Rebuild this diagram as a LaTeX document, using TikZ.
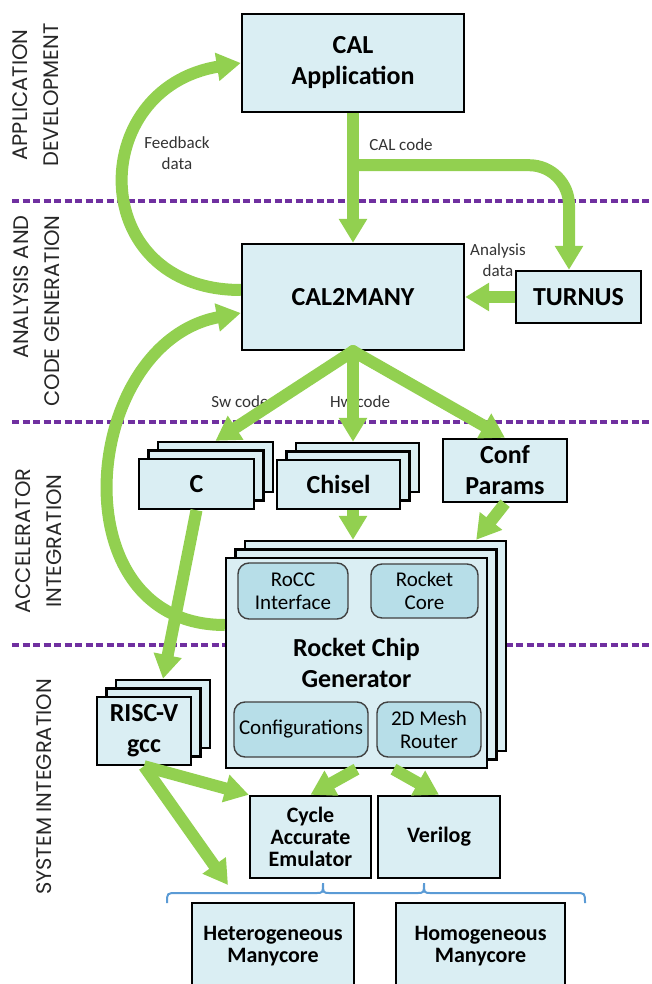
\documentclass[tikz,border=0pt]{standalone}
\usepackage{fontspec}
\setmainfont{Carlito}
\newfontfamily\bandfont{Poppins}
\usetikzlibrary{arrows.meta}
\definecolor{leaf}{HTML}{92D050}
\definecolor{paleblue}{HTML}{DAEEF3}
\definecolor{midblue}{HTML}{B7DEE8}
\definecolor{bracecol}{HTML}{5B9BD5}
\definecolor{lanecol}{HTML}{7030A0}
\begin{document}
\begin{tikzpicture}[x=1pt,y=-1pt,
  box/.style={draw=black,line width=2.4pt,fill=paleblue,inner sep=0pt,align=center,
   font=\fontsize{26}{31}\selectfont\bfseries},
  sbox/.style={box,font=\fontsize{22}{22}\selectfont\bfseries},
  subbox/.style={draw=black!75,line width=1.4pt,fill=midblue,rounded corners=11pt,
   inner sep=0pt,align=center,font=\fontsize{21}{23}\selectfont},
  lbl/.style={align=center,text=black!80,font=\fontsize{17}{21}\selectfont},
  band/.style={rotate=90,align=center,text=black!85,font=\bandfont\fontsize{21}{31}\selectfont},
  flow/.style={draw=leaf,line width=12pt,-{Triangle[width=27pt,length=24pt]}},
  lane/.style={draw=lanecol,line width=3.5pt,dash pattern=on 7pt off 3.5pt}]
 \useasboundingbox (0,0) rectangle (651,984);
 % phase separators and phase names
 \foreach \y in {201,422,645}
  \draw [lane] (12,\y) -- (651,\y);
 \node [band] (bapp) at (36,95) {APPLICATION\\DEVELOPMENT};
 \node [band,align=right] (bcode) at (37,311) {ANALYSIS AND\\CODE GENERATION};
 \node [band] (bacc) at (39,541) {ACCELERATOR\\INTEGRATION};
 \node [band] (bsys) at (44,787) {SYSTEM INTEGRATION};
 % arrow labels
 \node [lbl] (fbl) at (177,153) {Feedback\\data};
 \node [lbl] (cll) at (401,145) {CAL code};
 \node [lbl] (anl) at (498,260) {Analysis\\data};
 \node [lbl] (swl) at (240,402) {Sw code};
 \node [lbl] (hwl) at (360,402) {Hw code};
 % tool chain
 \node [box,minimum width=222,minimum height=98] (cal) at (353,63) {CAL\\Application};
 \node [box,minimum width=222,minimum height=106] (c2m) at (353,297) {CAL2MANY};
 \node [box,minimum width=125,minimum height=52] (turnus) at (578.5,297) {TURNUS};
 \foreach \n/\x/\y/\w/\h in {c/196.5/484/115/50,chisel/338.5/484.5/123/49,
   riscv/144/731/94/68,rocket/356.5/663/261/210}
  \foreach \k in {2,1}
   \node [box,minimum width=\w,minimum height=\h] (\n\k) at ({\x+9.5*\k},{\y-8.5*\k}) {};
 \node [box,minimum width=115,minimum height=50] (c) at (196.5,484) {C};
 \node [box,minimum width=123,minimum height=49] (chisel) at (338.5,484.5) {Chisel};
 \node [box,minimum width=124,minimum height=63] (conf) at (505,470.5) {Conf\\Params};
 \node [box,minimum width=261,minimum height=210] (rocket) at (356.5,663) {Rocket Chip\\Generator};
 \node [subbox,minimum width=110,minimum height=56] (rocc) at (293,591) {RoCC\\Interface};
 \node [subbox,minimum width=107,minimum height=54] (core) at (424.5,591) {Rocket\\Core};
 \node [subbox,minimum width=134,minimum height=55] (cfgs) at (301,729.5) {Configurations};
 \node [subbox,minimum width=104,minimum height=55] (mesh) at (429,729.5) {2D Mesh\\Router};
 \node [box,minimum width=94,minimum height=68] (riscv) at (144,731) {RISC-V\\gcc};
 \node [sbox,minimum width=121,minimum height=82] (cycle) at (310.5,837) {Cycle\\Accurate\\Emulator};
 \node [sbox,minimum width=122,minimum height=82] (verilog) at (439,837) {Verilog};
 \node [sbox,minimum width=162,minimum height=86] (hetero) at (273,946) {Heterogeneous\\Manycore};
 \node [sbox,minimum width=169,minimum height=86] (homo) at (480.5,946) {Homogeneous\\Manycore};
 % target brace
 \draw [bracecol,line width=2pt] (167,903) .. controls (167,893) .. (177,893) -- (316,893)
  .. controls (323,893) .. (323,883) .. controls (323,893) .. (330,893) -- (417,893)
  .. controls (424,893) .. (424,883) .. controls (424,893) .. (431,893) -- (575,893)
  .. controls (585,893) .. (585,903);
 \coordinate (split) at ([yshift=-52pt]cal.south);
 \coordinate (brc) at (228,885);
 % flows
 \draw [flow] (cal) -- (c2m);
 \draw [flow,rounded corners=40pt] (split) -| ([xshift=-9.5pt]turnus.north);
 \draw [flow] (turnus) -- (c2m);
 \draw [flow] ([yshift=7pt]c2m.west) .. controls +(-155,0) and +(-155,25) .. (cal.west);
 \draw [flow] ([yshift=38pt]rocket.west) .. controls +(-169,0) and +(-160,30) .. ([yshift=-16pt]c2m.west);
 \draw [flow,line cap=round] (c2m.south) -- (c2.north);
 \draw [flow,line cap=round] (c2m.south) -- (c2m.south |- chisel2.north);
 \draw [flow,line cap=round] (c2m.south) -- (conf.north);
 \draw [flow] (chisel.south -| c2m.south) -- (c2m.south |- rocket2.north);
 \draw [flow] (conf.south) -- ([xshift=-31pt]rocket2.north east);
 \draw [flow] (c.south) -- (riscv2.north);
 \draw [flow] (rocket.south) -- (cycle.north);
 \draw [flow] ([xshift=37pt]rocket.south) -- (verilog.north);
 \draw [flow] (riscv.south) -- (cycle.north west);
 \draw [flow] (riscv.south) -- (brc);
\end{tikzpicture}
\end{document}
